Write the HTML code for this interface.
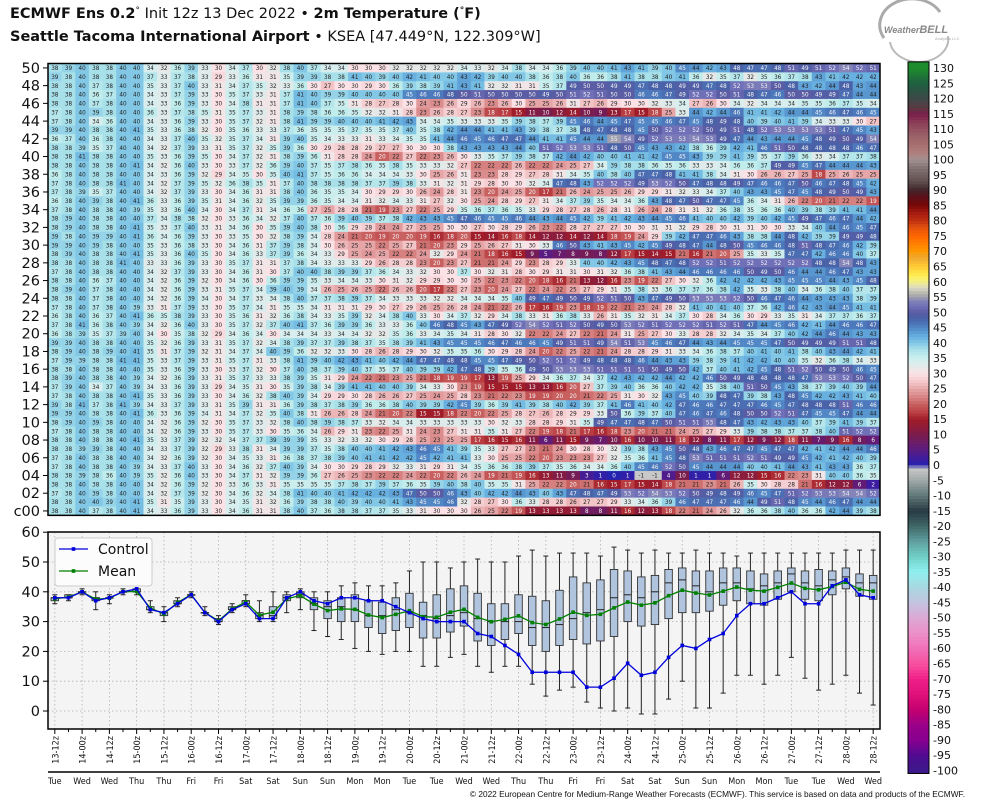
<!DOCTYPE html>
<html><head><meta charset="utf-8"><style>
html,body{margin:0;padding:0;background:#fff;}
body{width:984px;height:808px;overflow:hidden;font-family:"Liberation Sans","DejaVu Sans",sans-serif;}
svg{display:block;}
</style></head><body>
<svg id="chart" width="984" height="808" viewBox="0 0 984 808" xmlns="http://www.w3.org/2000/svg">
<g font-family="DejaVu Sans, Liberation Sans, sans-serif">
<text x="10" y="18" font-size="14.5" fill="#111"><tspan font-weight="bold">ECMWF Ens 0.2</tspan><tspan font-size="9" dy="-5">°</tspan><tspan dy="5"> Init 12z 13 Dec 2022 • </tspan><tspan font-weight="bold">2m Temperature (</tspan><tspan font-weight="bold" font-size="9" dy="-5">°</tspan><tspan font-weight="bold" dy="5">F)</tspan></text>
<text x="10" y="41" font-size="14.5" fill="#111"><tspan font-weight="bold">Seattle Tacoma International Airport</tspan> • KSEA [47.449°N, 122.309°W]</text>
</g>
<g>
<path d="M884 38 A32 26 0 0 1 940 12" fill="none" stroke="#aaa" stroke-width="3"/>
<path d="M890 42 A28 22 0 0 0 948 36" fill="none" stroke="#bbb" stroke-width="2"/>
<text x="884" y="33" font-size="9" fill="#888" font-weight="bold" font-style="italic">Weather<tspan font-size="11">BELL</tspan></text>
<text x="935" y="40" font-size="4" fill="#aaa">Analytics LLC</text>
</g>
<g id="heat"></g>
<g id="cbar"></g>
<g id="lower"></g>
<text x="965" y="797" font-size="8.3" fill="#111" text-anchor="end">© 2022 European Centre for Medium-Range Weather Forecasts (ECMWF). This service is based on data and products of the ECMWF.</text>
</svg>
<script>
const memberLabels = ['50','49','48','47','46','45','44','43','42','41','40','39','38','37','36','35','34','33','32','31','30','29','28','27','26','25','24','23','22','21','20','19','18','17','16','15','14','13','12','11','10','09','08','07','06','05','04','03','02','01','c00'];
const tempRows = [
"38 39 40 38 38 40 40 34 32 36 39 33 30 34 37 30 32 38 40 37 34 34 30 30 30 32 32 32 32 32 34 33 32 34 38 34 34 36 39 40 40 41 43 41 39 40 45 44 42 43 48 47 47 48 51 49 51 52 54 52 51",
"39 38 40 38 38 40 40 37 33 37 38 33 29 33 36 31 31 35 39 39 38 38 41 40 39 40 42 41 40 40 43 42 39 40 40 38 36 38 40 36 36 38 41 38 38 40 41 36 32 35 37 32 35 36 37 38 43 41 42 42 42",
"38 38 40 37 38 40 40 35 33 37 40 33 31 34 37 35 32 33 36 30 27 30 30 29 30 36 39 38 39 41 43 41 32 32 31 31 35 37 49 50 50 49 49 47 48 48 49 49 47 48 52 53 53 50 48 43 42 44 48 43 44",
"38 38 40 36 37 40 40 34 33 37 39 33 30 35 37 33 31 37 41 40 39 39 40 40 40 40 45 46 46 48 50 51 50 50 50 50 49 50 51 52 51 50 50 46 46 47 49 52 52 50 51 48 47 46 50 50 49 49 47 44 44",
"38 38 40 37 38 40 40 34 33 36 39 33 30 34 38 31 31 37 41 40 37 35 31 28 27 28 30 24 23 26 29 26 23 26 30 25 25 26 31 27 26 29 30 30 32 33 34 27 26 30 34 32 34 34 34 35 35 36 37 35 34",
"37 38 40 39 38 40 40 36 33 37 38 35 31 35 37 33 31 38 39 38 36 36 35 32 32 31 28 23 26 28 27 23 18 17 15 11 10 12 14 10 9 13 17 15 18 25 33 44 42 44 46 41 41 42 44 44 45 46 47 46 45",
"37 38 40 34 36 40 40 34 33 36 39 33 30 35 37 32 31 38 41 39 39 40 40 40 41 42 43 34 34 35 33 33 33 35 39 38 37 39 45 46 44 45 47 45 45 46 47 45 48 49 48 40 39 40 41 39 34 33 33 30 27",
"39 39 40 38 38 40 41 35 33 36 38 32 30 35 36 33 33 37 36 35 35 35 37 35 35 37 40 35 38 42 44 44 41 41 43 39 38 37 38 48 47 48 48 45 50 52 52 52 50 49 51 48 52 53 53 53 53 51 47 45 43",
"36 37 40 36 38 40 40 34 33 37 40 35 32 35 37 34 31 39 40 35 34 33 33 31 33 34 35 35 41 44 46 45 46 47 47 44 41 41 45 44 44 55 54 49 52 53 53 54 53 49 47 44 43 44 44 45 48 49 50 49 54",
"38 38 39 35 37 40 40 34 32 37 39 33 31 35 37 32 35 39 36 30 29 28 28 29 27 27 30 30 30 38 43 43 43 43 44 40 51 52 53 53 51 48 50 45 43 43 42 38 36 39 42 41 46 51 50 48 48 48 48 46 47",
"38 38 41 38 38 40 40 35 33 36 39 35 30 34 37 32 31 38 39 36 31 28 28 24 20 22 27 22 23 26 30 33 35 37 39 38 37 42 44 42 40 40 41 41 42 45 45 43 39 39 41 39 35 37 39 36 33 34 37 37 38",
"38 38 40 38 38 40 41 34 32 36 40 33 30 33 37 32 36 39 40 37 35 37 38 36 35 38 35 33 33 32 27 22 22 22 26 22 22 24 25 27 34 39 38 38 36 35 36 33 33 34 36 36 37 49 49 45 47 44 44 44 43",
"36 38 40 38 38 40 40 34 33 36 39 32 29 34 35 30 35 40 41 37 35 36 36 34 34 34 33 30 25 26 31 23 23 28 29 27 28 31 34 35 40 38 40 47 47 48 41 41 38 34 31 30 26 26 27 25 18 25 26 25 25",
"37 38 40 38 38 41 40 34 32 37 39 35 32 36 38 35 31 37 40 38 38 38 38 37 37 39 38 33 31 32 31 29 28 30 30 32 34 47 48 43 52 52 52 49 53 52 50 47 48 48 49 47 46 46 47 50 46 47 48 45 42",
"37 38 39 35 37 40 40 34 32 37 39 33 30 34 36 31 31 38 40 36 35 35 34 30 29 29 30 26 24 28 31 23 20 24 25 20 17 21 26 24 25 25 26 29 29 31 32 33 34 37 40 43 43 45 47 45 48 49 50 49 43",
"36 38 40 39 38 40 41 36 33 36 39 35 31 34 36 32 35 39 39 36 35 34 34 31 32 34 33 31 27 32 30 25 24 28 29 27 31 34 37 39 35 34 34 36 43 48 47 50 47 47 45 36 34 31 26 22 20 21 22 22 19",
"37 38 40 38 38 40 39 35 33 36 40 34 30 34 37 31 34 36 36 27 25 28 28 21 19 23 27 22 25 29 35 36 37 36 35 33 29 28 27 28 26 28 31 26 24 28 31 31 32 36 38 35 36 36 40 39 38 39 41 41 44",
"38 39 40 38 38 40 40 37 34 38 38 32 30 33 36 34 32 37 40 37 36 39 40 39 37 38 42 43 43 45 47 46 45 45 46 44 43 44 45 42 39 41 42 43 44 45 46 41 40 40 42 39 40 42 45 49 47 46 47 44 42",
"38 39 40 38 38 40 41 35 33 37 40 33 31 34 36 30 35 39 40 38 30 36 29 28 24 24 27 25 25 30 30 27 30 28 29 26 23 22 28 27 27 27 30 30 31 31 32 29 28 30 31 31 30 30 33 34 40 44 46 45 47",
"39 38 40 39 39 40 41 36 34 36 39 33 30 33 35 30 32 38 39 34 28 24 21 20 19 20 20 19 16 18 20 15 14 16 18 14 12 12 14 12 14 18 19 24 29 39 42 47 47 46 43 38 38 44 48 42 39 39 49 49 48",
"39 39 40 39 38 40 40 35 33 36 38 33 30 34 36 31 37 39 38 34 30 26 25 25 22 25 27 21 20 23 29 25 26 27 31 30 33 46 50 43 41 43 45 42 45 49 48 47 44 48 50 45 46 46 48 51 48 47 46 42 39",
"38 39 40 38 38 40 41 35 33 36 40 35 30 34 36 33 37 39 36 34 33 29 25 24 25 22 22 24 32 29 24 21 18 16 15 9 5 7 8 9 8 12 17 15 14 15 21 16 21 20 25 35 33 35 47 47 42 46 46 40 37",
"38 38 40 38 38 41 40 33 33 36 39 33 30 35 37 31 31 37 38 34 33 33 33 29 26 28 28 23 20 23 27 21 21 24 29 23 28 29 33 40 40 42 43 45 48 47 48 52 52 51 52 52 52 52 52 52 48 48 54 48 43",
"37 38 40 38 38 40 40 34 32 37 39 33 30 34 36 31 30 37 40 40 38 39 39 37 36 34 33 32 30 30 37 30 32 31 28 30 29 31 31 30 31 32 36 38 41 43 44 46 46 46 46 50 49 50 46 44 44 46 47 43 43",
"38 38 40 36 37 40 40 34 32 36 39 32 30 34 36 30 36 39 39 35 33 34 34 33 30 31 32 29 29 30 30 25 22 23 22 20 18 16 21 13 12 16 23 19 22 27 30 32 36 42 42 42 42 43 45 45 45 44 43 45 48",
"38 39 40 37 38 40 40 34 32 36 39 33 31 35 37 34 39 40 39 34 26 25 26 25 22 26 26 20 17 22 27 23 20 24 27 22 24 22 25 27 29 31 35 38 33 36 37 37 36 38 42 35 33 38 40 34 36 38 40 37 37",
"38 38 40 37 38 40 40 34 32 36 39 34 30 34 37 33 34 38 40 37 37 38 39 37 34 33 33 33 32 32 34 34 34 35 40 49 47 49 50 49 52 51 50 43 47 49 50 53 53 53 52 50 46 47 46 44 43 43 43 38 39",
"37 38 40 37 38 40 39 33 31 37 39 33 30 35 37 34 31 35 35 34 31 31 31 29 30 27 29 26 25 26 28 24 21 22 26 17 16 19 23 18 19 22 21 23 24 28 32 41 40 41 40 37 36 42 46 42 43 44 45 41 41",
"36 38 40 36 37 40 41 36 35 38 39 33 30 35 36 31 32 36 38 34 33 35 39 32 34 38 40 33 30 34 37 32 29 34 38 33 31 36 38 33 26 31 35 32 31 34 37 30 28 34 36 30 29 33 35 31 34 37 37 36 37",
"37 38 41 36 38 40 39 34 32 36 40 33 30 35 37 32 37 40 41 37 36 39 39 36 33 33 36 40 46 48 45 43 47 49 52 54 52 51 52 50 49 50 53 52 51 52 52 52 51 52 51 47 44 45 46 42 41 44 46 46 47",
"36 38 39 35 37 39 40 34 30 35 38 32 29 34 36 34 30 34 34 34 33 34 34 32 32 35 36 33 34 35 34 31 28 30 32 22 22 24 27 22 21 24 31 25 27 30 33 28 28 32 34 35 34 37 40 42 44 46 44 43 43",
"39 39 40 38 38 40 40 35 32 36 39 33 31 35 37 32 34 38 39 37 37 39 38 37 35 38 39 41 43 45 45 45 46 47 46 46 45 49 51 51 49 54 51 53 45 46 47 44 43 44 45 45 45 47 50 49 49 49 51 51 48",
"38 39 40 38 39 40 41 35 31 37 39 32 31 34 37 34 40 39 36 32 32 33 30 28 26 28 29 30 32 35 35 36 30 29 28 24 20 22 25 22 21 24 28 28 29 31 33 34 36 38 37 40 41 40 41 38 40 43 44 42 41",
"37 39 39 38 38 41 41 35 33 37 39 33 31 35 37 31 33 38 41 39 40 42 43 41 40 42 44 47 47 48 48 45 45 47 49 50 52 51 52 49 48 48 48 46 44 43 43 39 38 39 41 42 42 40 40 35 32 36 38 34 33",
"38 38 40 38 38 40 40 35 33 36 39 33 30 33 37 32 30 37 40 38 37 39 40 37 35 37 40 39 39 42 47 48 39 35 36 49 50 53 53 53 51 51 51 51 50 49 50 42 37 40 41 42 45 48 51 52 50 49 50 46 45",
"38 39 40 38 38 40 39 34 32 36 39 33 31 35 37 33 33 38 39 35 31 29 24 22 21 23 25 21 18 19 19 17 13 19 25 29 34 36 37 34 37 42 43 42 42 44 42 42 46 50 49 48 48 48 48 47 53 53 52 50 47",
"37 39 40 34 37 40 39 34 33 36 39 33 29 34 35 31 30 35 39 38 34 39 41 41 40 40 39 34 33 30 23 19 15 15 15 13 13 16 20 27 37 39 40 36 36 40 42 42 35 38 40 51 50 45 43 38 37 39 40 39 44",
"37 38 40 38 38 40 41 35 33 36 39 33 30 34 36 32 38 40 39 34 29 29 30 28 26 26 27 25 24 25 28 23 21 22 23 19 19 20 20 21 22 25 31 30 32 43 45 40 39 48 47 39 38 43 48 45 42 42 43 41 40",
"39 38 41 37 38 41 39 34 33 37 39 33 31 35 39 31 31 36 39 38 37 38 39 36 36 38 40 39 39 42 45 39 36 39 41 39 38 40 42 39 37 41 46 41 40 42 47 46 46 47 47 47 46 45 47 48 48 48 51 46 46",
"39 39 40 38 38 40 41 36 33 36 39 34 31 34 37 32 35 40 38 31 26 26 28 24 21 20 22 15 15 18 22 20 22 25 28 27 26 28 29 29 33 50 36 39 37 40 47 46 47 46 48 50 50 52 51 47 45 45 47 44 44",
"38 39 40 39 38 40 40 34 32 36 39 32 30 35 37 33 32 38 40 38 39 38 37 33 32 34 34 33 33 33 33 33 30 32 33 28 28 29 31 35 49 47 47 48 47 50 51 51 53 48 47 43 42 43 43 40 37 39 41 39 37",
"37 38 40 38 38 40 40 34 32 36 39 33 30 35 37 33 30 35 36 34 26 29 31 23 22 25 31 24 23 27 31 31 35 31 27 22 19 18 21 17 16 18 23 20 21 21 24 25 27 29 33 39 38 38 37 37 38 40 51 52 52",
"38 38 40 38 38 40 41 35 33 37 39 32 32 34 37 37 39 39 39 35 33 32 33 32 30 29 28 25 23 25 25 17 16 15 16 11 6 11 15 9 7 10 16 10 10 11 18 12 8 11 17 12 9 12 18 11 7 9 16 8 6",
"38 38 39 39 38 40 40 34 33 37 39 32 29 33 38 31 34 39 39 37 35 38 40 40 41 42 43 46 45 41 39 35 33 27 27 23 21 24 30 28 30 32 39 38 43 45 50 48 43 46 47 47 45 47 47 42 41 42 44 44 46",
"37 38 40 38 38 40 40 34 32 36 39 32 30 34 35 33 31 36 38 37 38 39 40 41 41 42 42 45 42 41 41 33 30 25 25 22 20 23 23 23 27 32 35 36 41 45 48 53 51 51 51 52 51 49 49 45 42 41 42 40 39",
"37 38 40 38 38 40 39 34 33 37 40 33 30 34 36 32 37 40 39 34 30 30 29 28 29 32 33 31 29 31 34 35 36 36 38 39 37 35 36 34 34 36 40 45 46 52 50 45 44 44 44 40 40 41 44 43 41 43 43 36 37",
"38 38 39 38 36 40 39 35 32 36 40 33 30 34 37 31 32 39 39 36 27 26 25 23 22 22 24 22 20 22 26 24 19 21 19 16 13 11 9 3 1 0 1 -1 -1 4 10 1 1 6 12 12 15 16 22 23 31 40 40 36 35",
"38 38 40 38 38 40 40 34 32 36 39 32 30 33 36 33 31 35 35 35 35 37 38 37 39 37 36 35 39 40 38 40 35 35 31 25 22 22 20 21 16 15 17 15 14 18 21 21 23 21 26 35 30 28 28 21 16 12 12 6 2",
"37 38 40 39 38 40 40 34 32 37 39 32 30 34 36 32 34 38 41 40 40 41 42 42 42 43 47 50 50 46 43 40 42 42 44 43 40 43 47 48 47 49 53 52 54 53 52 50 49 48 49 46 45 47 51 52 53 53 54 54 52",
"38 38 40 40 39 40 41 35 31 35 39 33 30 34 35 31 32 36 39 38 38 40 39 40 40 41 43 45 45 46 32 28 27 30 36 33 28 28 26 27 27 29 33 34 36 39 46 47 47 47 46 44 49 51 48 45 44 46 47 44 44",
"38 38 40 37 38 40 41 34 33 36 39 33 30 34 36 31 31 38 40 37 36 38 38 37 37 35 33 31 30 30 30 26 25 22 19 13 13 13 13 8 8 11 16 12 13 18 22 21 24 26 32 36 36 38 40 36 36 42 44 39 38"
];
const timeLabels = ['13-12z','14-00z','14-12z','15-00z','15-12z','16-00z','16-12z','17-00z','17-12z','18-00z','18-12z','19-00z','19-12z','20-00z','20-12z','21-00z','21-12z','22-00z','22-12z','23-00z','23-12z','24-00z','24-12z','25-00z','25-12z','26-00z','26-12z','27-00z','27-12z','28-00z','28-12z'];
const dayLabels = ['Tue','Wed','Wed','Thu','Thu','Fri','Fri','Sat','Sat','Sun','Sun','Mon','Mon','Tue','Tue','Wed','Wed','Thu','Thu','Fri','Fri','Sat','Sat','Sun','Sun','Mon','Mon','Tue','Tue','Wed','Wed'];
const yTicks = [0,10,20,30,40,50,60];
const cbarTicks = [130,125,120,115,110,105,100,95,90,85,80,75,70,65,60,55,50,45,40,35,30,25,20,15,10,5,0,-5,-10,-15,-20,-25,-30,-35,-40,-45,-50,-55,-60,-65,-70,-75,-80,-85,-90,-95,-100];

const NS='http://www.w3.org/2000/svg';
const stops=[[-100,'#3c1a8c'],[-95,'#500a90'],[-90,'#880090'],[-85,'#9a0088'],[-80,'#c40070'],[-75,'#e0107a'],[-70,'#f02088'],[-65,'#f850a0'],[-60,'#f070b8'],[-55,'#ec90c8'],[-50,'#dca8d4'],[-45,'#c4c4e0'],[-40,'#a8d8e0'],[-35,'#90f0f0'],[-30,'#70d0c8'],[-25,'#60a0a0'],[-20,'#406868'],[-15,'#283a44'],[-10,'#607878'],[-5,'#a0a8a8'],[-1,'#c8c8c8'],[0,'#2424b0'],[2,'#3c1ca0'],[5,'#5a1c80'],[7,'#6a1c6c'],[10,'#7a1c4c'],[12,'#8c1c3c'],[15,'#a01c28'],[17,'#b83c40'],[20,'#c86060'],[22,'#d68080'],[25,'#e6a6a8'],[27,'#f2c4c6'],[30,'#fce2e6'],[32,'#e6e8e8'],[34,'#d8eeee'],[36,'#c0ecec'],[38,'#a8e0ea'],[40,'#82c8e6'],[42,'#68b0e0'],[44,'#5896d0'],[46,'#4c78bc'],[48,'#4a62a8'],[50,'#5a5ca4'],[52,'#7070b8'],[54,'#8484b8'],[55,'#a0a0b0'],[56,'#b0b0a8'],[58,'#d8d8c8'],[60,'#f2f088'],[62,'#ffee55'],[65,'#ffcc33'],[68,'#f0a830'],[70,'#ff9900'],[73,'#ff7a00'],[75,'#ff6600'],[78,'#e05010'],[80,'#c03010'],[83,'#a01810'],[85,'#780808'],[88,'#5a1018'],[90,'#402428'],[93,'#605050'],[97,'#807070'],[100,'#a09090'],[102,'#b08080'],[105,'#a87070'],[108,'#9a6068'],[112,'#8c4058'],[115,'#7a1e4a'],[117,'#5a3a40'],[120,'#3c4848'],[125,'#1e6040'],[130,'#1e8c2c']];
function hex(c){return [parseInt(c.substr(1,2),16),parseInt(c.substr(3,2),16),parseInt(c.substr(5,2),16)];}
function colorOf(v){
  if(v<=stops[0][0])return stops[0][1];
  for(let i=1;i<stops.length;i++){
    if(v<=stops[i][0]){const a=stops[i-1],b=stops[i];const t=(v-a[0])/(b[0]-a[0]);const ca=hex(a[1]),cb=hex(b[1]);
      return 'rgb('+ca.map((x,k)=>Math.round(x+(cb[k]-x)*t)).join(',')+')';}
  }
  return stops[stops.length-1][1];
}
function mk(tag,attrs,parent){const e=document.createElementNS(NS,tag);for(const k in attrs)e.setAttribute(k,attrs[k]);parent.appendChild(e);return e;}

const data=tempRows.map(r=>r.trim().split(/\s+/).map(Number));
const nT=data[0].length;
const X0=48,X1=880,cw=(X1-X0)/nT;
const xPos=i=>X0+cw*(i+0.5);
const HY0=63.5,rh=8.86;

// heatmap
const heat=document.getElementById('heat');
data.forEach((row,r)=>{
  row.forEach((v,i)=>{
    const c=mk('rect',{x:(X0+cw*i).toFixed(2),y:(HY0+rh*r).toFixed(2),width:(cw+0.3).toFixed(2),height:(rh+0.3).toFixed(2),fill:colorOf(v)},heat);
    
    
    const dark=(v>=45||(v<=20&&v>=0));
    const t=mk('text',{x:(X0+cw*(i+0.5)).toFixed(2),y:(HY0+rh*r+6.6).toFixed(2),'font-size':'6.3','text-anchor':'middle',fill:dark?'#f4f4f4':'#222','font-family':'DejaVu Sans Condensed, DejaVu Sans, sans-serif'},heat);
    t.textContent=v;
    
    
  });
});
const hf=mk('rect',{x:X0,y:HY0,width:X1-X0,height:rh*data.length,fill:'none',stroke:'#000','stroke-width':1.5},heat);


memberLabels.forEach((m,r)=>{
  if(!(m==='c00'||parseInt(m)%2===0))return;
  const yc=HY0+rh*(r+0.5);
  const tk=mk('line',{x1:X0-5,x2:X0,y1:yc,y2:yc,stroke:'#000'},heat);
  
  
  const tl=mk('text',{x:X0-8,y:yc+5,'font-size':'14.5','text-anchor':'end',fill:'#111','font-family':'DejaVu Sans, sans-serif'},heat);
  tl.textContent=m;
  
  
});

// colorbar
const cb=document.getElementById('cbar');
const cbY=v=>465-3.054*v;
for(let v=-101;v<132;v++){
  const r=mk('rect',{x:908,y:cbY(v+1).toFixed(2),width:21,height:3.4,fill:colorOf(v+0.5)},cb);
  
  
}
const cbf=mk('rect',{x:908,y:cbY(132),width:21,height:cbY(-101)-cbY(132),fill:'none',stroke:'#000'},cb);


cbarTicks.forEach(v=>{
  const t=mk('text',{x:933,y:cbY(v)+4,'font-size':'11',fill:'#111','font-family':'DejaVu Sans, sans-serif'},cb);
  t.textContent=v;
  
  
});

// lower chart
const lo=document.getElementById('lower');
const PY0=532,PY1=729;
const yv=v=>711-v*2.98;
const bg=mk('rect',{x:X0,y:PY0,width:X1-X0,height:PY1-PY0,fill:'#f4f4f4'},lo);


yTicks.forEach(v=>{
  const g=mk('line',{x1:X0,x2:X1,y1:yv(v),y2:yv(v),stroke:'#b0b0b0','stroke-dasharray':'1.5,2.5','stroke-width':0.8},lo);
  
  
  const tk=mk('line',{x1:X0-5,x2:X0,y1:yv(v),y2:yv(v),stroke:'#000'},lo);
  
  
  const t=mk('text',{x:X0-8,y:yv(v)+5,'font-size':'14.5','text-anchor':'end',fill:'#111','font-family':'DejaVu Sans, sans-serif'},lo);
  t.textContent=v;
  
  
});
for(let i=0;i<nT;i++){
  const major=i%2===0;
  if(major){
    const g=mk('line',{x1:xPos(i),x2:xPos(i),y1:PY0,y2:PY1,stroke:'#b0b0b0','stroke-dasharray':'1.5,2.5','stroke-width':0.8},lo);
    
    
  }
  const tk=mk('line',{x1:xPos(i),x2:xPos(i),y1:PY1,y2:PY1+(major?5:3),stroke:'#000'},lo);
  
  
}
timeLabels.forEach((lab,k)=>{
  const x=xPos(k*2);
  const t=mk('text',{x:0,y:0,'font-size':'9','text-anchor':'end',fill:'#111',transform:'translate('+(x+3.5)+',736) rotate(-90)','font-family':'DejaVu Sans Condensed, DejaVu Sans, sans-serif'},lo);
  t.textContent=lab;
  
  
  const d=mk('text',{x:x,y:784,'font-size':'9','text-anchor':'middle',fill:'#111','font-family':'DejaVu Sans Condensed, DejaVu Sans, sans-serif'},lo);
  d.textContent=dayLabels[k];
  
  
});
const dl=mk('line',{x1:X0,x2:X1,y1:772,y2:772,stroke:'#000','stroke-width':1.5},lo);



function q(s,p){const idx=(s.length-1)*p;const lo_=Math.floor(idx),hi=Math.ceil(idx);return s[lo_]+(s[hi]-s[lo_])*(idx-lo_);}
const meanVals=[],ctrlVals=[];
for(let i=0;i<nT;i++){
  const col=data.map(r=>r[i]);
  const s=col.slice().sort((a,b)=>a-b);
  const mn=s[0],mx=s[s.length-1],q1=q(s,0.25),md=q(s,0.5),q3=q(s,0.75);
  meanVals.push(col.reduce((a,b)=>a+b,0)/col.length);
  ctrlVals.push(data[data.length-1][i]);
  const x=xPos(i),bw=7.5;
  const w=mk('line',{x1:x,x2:x,y1:yv(mx),y2:yv(mn),stroke:'#222','stroke-width':1},lo);
  
  
  [mn,mx].forEach(v=>{
    const c=mk('line',{x1:x-2.5,x2:x+2.5,y1:yv(v),y2:yv(v),stroke:'#222'},lo);
    
    
  });
  const b=mk('rect',{x:x-bw/2,y:yv(q3),width:bw,height:Math.max(0.5,yv(q1)-yv(q3)),fill:'#b0c4de',stroke:'#333','stroke-width':0.9},lo);
  
  
  const m=mk('line',{x1:x-bw/2,x2:x+bw/2,y1:yv(md),y2:yv(md),stroke:'#222'},lo);
  
  
}
function series(vals,color,name){
  const pl=mk('polyline',{points:vals.map((v,i)=>xPos(i).toFixed(2)+','+yv(v).toFixed(2)).join(' '),fill:'none',stroke:color,'stroke-width':1.3},lo);
  
  
  vals.forEach((v,i)=>{
    const p=mk('rect',{x:xPos(i)-1.8,y:yv(v)-1.8,width:3.6,height:3.6,fill:color},lo);
    
    
  });
}
series(meanVals,'#008000','mean');
series(ctrlVals,'#0000dd','control');
const fr=mk('rect',{x:X0,y:PY0,width:X1-X0,height:PY1-PY0,fill:'none',stroke:'#000','stroke-width':1.5},lo);



// legend
const lg=mk('g',{},lo);


const lb=mk('rect',{x:55,y:538,width:97,height:48,rx:3,fill:'#fcfcfc',stroke:'#ccc'},lg);


[['Control','#0000dd',549],['Mean','#008000',571]].forEach(([lab,col,y])=>{
  const l=mk('line',{x1:59,x2:88,y1:y,y2:y,stroke:col,'stroke-width':1.3},lg);
  
  
  const p=mk('rect',{x:71.7,y:y-1.8,width:3.6,height:3.6,fill:col},lg);
  
  
  const t=mk('text',{x:98,y:y+5,'font-size':'14','fill':'#111','font-family':'DejaVu Sans, sans-serif'},lg);
  t.textContent=lab;
  
  
});
</script>
</body></html>
